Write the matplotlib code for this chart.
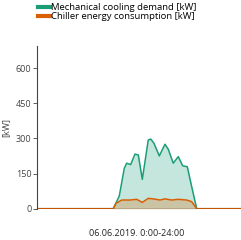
import numpy as np
import matplotlib.pyplot as plt

# time of day [h] and values [kW]
hours = [0.0, 8.97, 9.68, 10.27, 10.55, 11.02, 11.53, 11.92, 12.39, 13.09, 13.38,
         13.76, 14.39, 15.06, 15.45, 16.03, 16.62, 17.14, 17.68, 18.2, 18.79, 24.0]
cooling = [0, 0, 54, 172, 194, 188, 233, 229, 125, 293, 297,
           279, 225, 275, 253, 194, 222, 183, 179, 94, 0, 0]

hours_ch = [0.0, 8.97, 9.3, 9.97, 10.95, 11.73, 12.39, 13.09, 13.68, 14.47, 15.06,
            15.84, 16.62, 17.6, 18.2, 18.79, 24.0]
chiller = [0, 0, 23, 37, 37, 40, 27, 44, 42, 37, 42,
           37, 40, 37, 30, 0, 0]

green = '#1b9e77'
orange = '#d95f02'

plt.rcParams['font.family'] = ['Open Sans', 'DejaVu Sans']

fig = plt.figure(figsize=(2.41, 2.40), dpi=100)
ax = fig.add_axes([0.1535, 0.1304, 0.8465, 0.678])

ax.fill_between(hours, cooling, color=green, alpha=0.25, lw=0)
ax.plot(hours, cooling, color=green, lw=1.1, label='Mechanical cooling demand [kW]')
ax.fill_between(hours_ch, chiller, color=orange, alpha=0.25, lw=0)
ax.plot(hours_ch, chiller, color=orange, lw=1.1, label='Chiller energy consumption [kW]')
ax.axhline(0, color='#7a2e08', lw=1.0)

ax.set_xlim(0, 24)
ax.set_ylim(0, 694)
ax.set_yticks([0, 150, 300, 450, 600])
ax.set_xticks([])
for s in ['top', 'right', 'bottom']:
    ax.spines[s].set_visible(False)
ax.spines['left'].set_color('#444444')
ax.spines['left'].set_linewidth(0.8)
ax.tick_params(axis='y', labelsize=6.5, colors='#444444', length=3, width=0.6, pad=1)
ax.set_ylabel('[kW]', fontsize=6.5, color='#444444', labelpad=4)
fig.text(137 / 241, 1 - 233 / 240, '06.06.2019. 0:00-24:00', fontsize=6.5,
         color='#222222', ha='center', va='center')

fig.legend(loc='upper left', bbox_to_anchor=(0.14, 1.003), frameon=False,
           fontsize=6.8, handlelength=1.3, handletextpad=0.15, labelspacing=0.02,
           borderaxespad=0)
leg = fig.legends[0]
for h in leg.legend_handles:
    h.set_linewidth(3)

fig.savefig('out.png', dpi=100)
